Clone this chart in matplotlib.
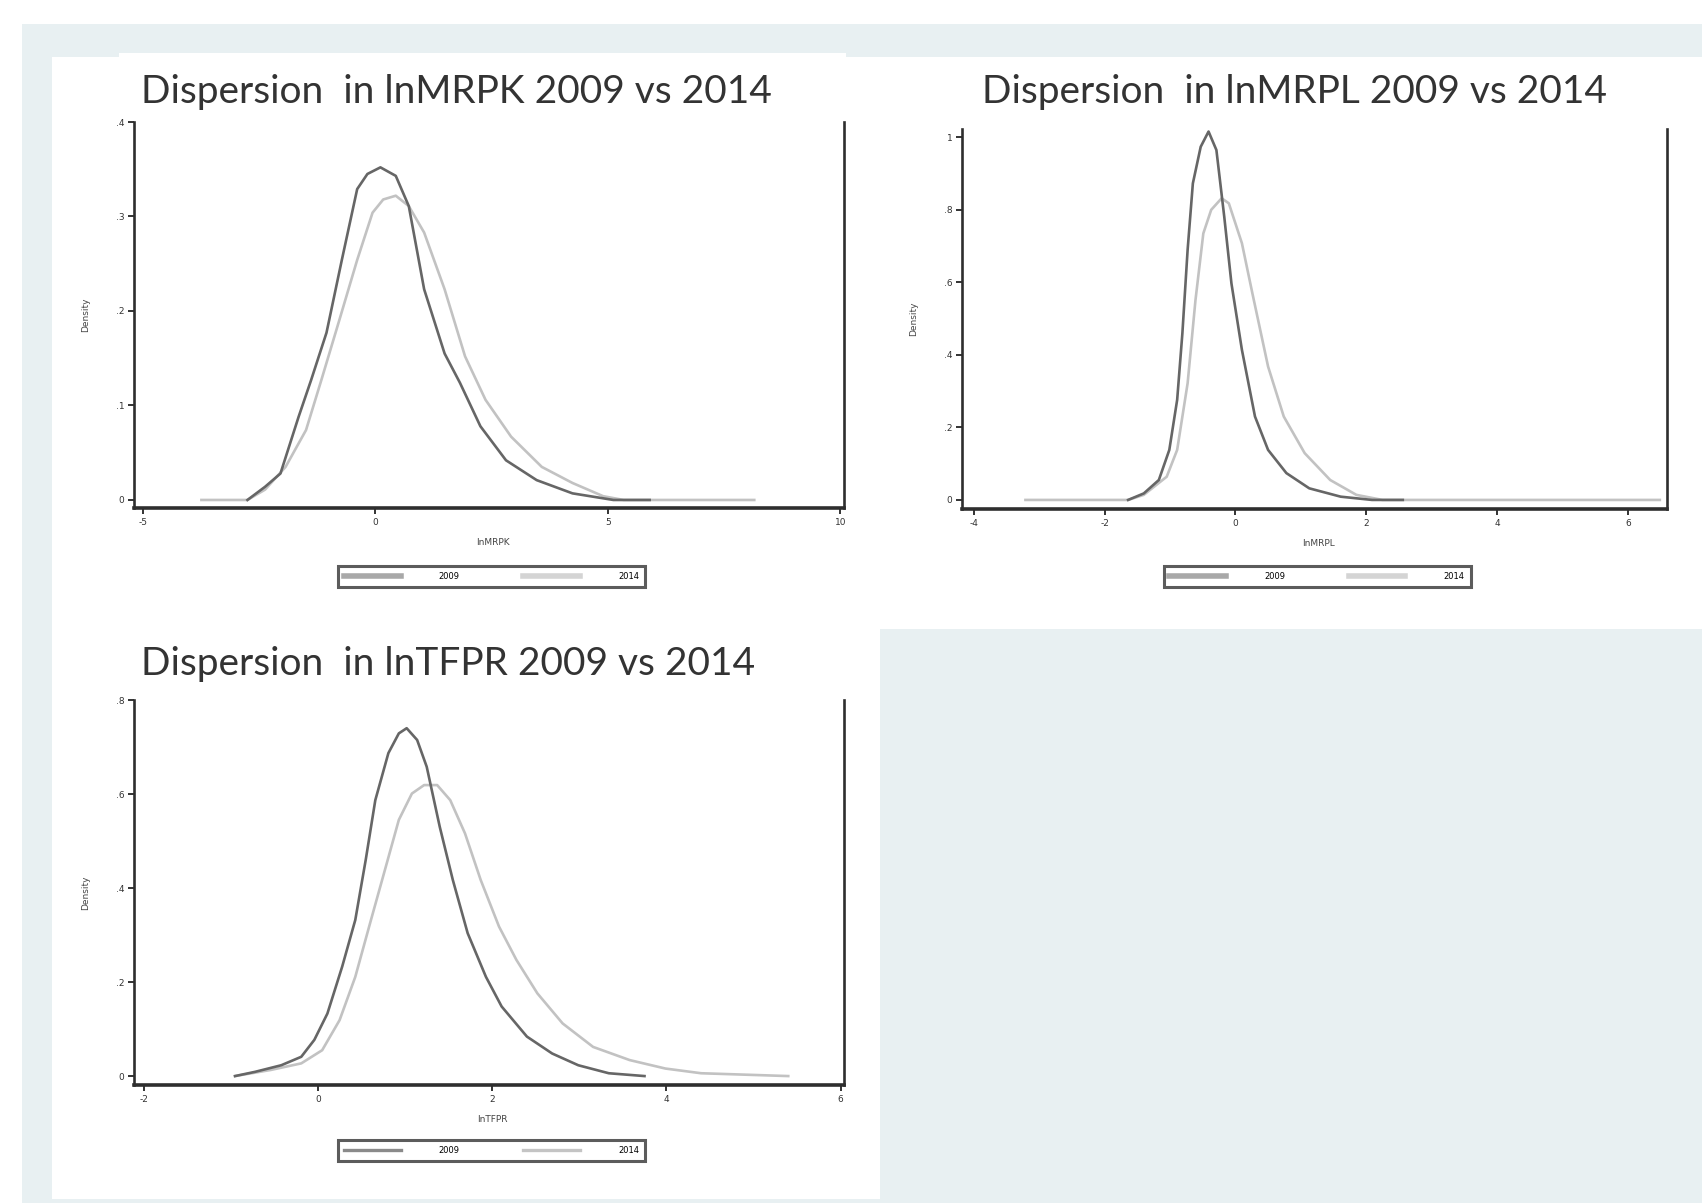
import matplotlib
matplotlib.use("Agg")
import matplotlib.pyplot as plt
from matplotlib.lines import Line2D
from matplotlib.patches import Rectangle

W, H = 1702, 1203
DPI = 100

years = ["2009", "2014"]
titles = [
    "Dispersion  in lnMRPK 2009 vs 2014",
    "Dispersion  in lnMRPL 2009 vs 2014",
    "Dispersion  in lnTFPR 2009 vs 2014",
]
xlabels = ["lnMRPK", "lnMRPL", "lnTFPR"]

# lnMRPK densities
mrpk_x_2009 = [-2.75, -2.37, -2.04, -1.65, -1.38, -1.05, -0.72, -0.39, -0.17, 0.11,
               0.44, 0.72, 1.05, 1.49, 1.82, 2.26, 2.81, 3.47, 4.24, 5.12, 5.9]
mrpk_y_2009 = [0.0, 0.014, 0.028, 0.088, 0.127, 0.177, 0.254, 0.329, 0.345, 0.352,
               0.343, 0.311, 0.223, 0.155, 0.124, 0.078, 0.042, 0.021, 0.007, 0.0, 0.0]
mrpk_x_2014 = [-3.74, -2.75, -2.37, -1.93, -1.49, -1.16, -0.77, -0.39, -0.06, 0.17,
               0.44, 0.72, 1.05, 1.49, 1.93, 2.37, 2.92, 3.58, 4.24, 4.9, 5.34, 8.15]
mrpk_y_2014 = [0.0, 0.0, 0.011, 0.035, 0.074, 0.127, 0.191, 0.254, 0.304, 0.318,
               0.322, 0.311, 0.283, 0.223, 0.152, 0.106, 0.067, 0.035, 0.018, 0.004, 0.0, 0.0]

# lnMRPL densities
mrpl_x_2009 = [-1.64, -1.40, -1.17, -1.01, -0.89, -0.81, -0.73, -0.65, -0.53, -0.41,
               -0.29, -0.17, -0.06, 0.10, 0.30, 0.50, 0.78, 1.13, 1.61, 2.09, 2.56]
mrpl_y_2009 = [0.0, 0.018, 0.055, 0.138, 0.276, 0.46, 0.69, 0.873, 0.974, 1.016,
               0.965, 0.781, 0.597, 0.414, 0.230, 0.138, 0.074, 0.032, 0.009, 0.0, 0.0]
mrpl_x_2014 = [-3.21, -1.64, -1.40, -1.05, -0.89, -0.73, -0.61, -0.49, -0.37, -0.21,
               -0.10, 0.10, 0.26, 0.50, 0.74, 1.06, 1.45, 1.85, 2.25, 6.49]
mrpl_y_2014 = [0.0, 0.0, 0.014, 0.064, 0.138, 0.322, 0.551, 0.735, 0.80, 0.832,
               0.818, 0.708, 0.570, 0.368, 0.230, 0.129, 0.055, 0.014, 0.0, 0.0]

# lnTFPR densities
tfpr_x_2009 = [-0.95, -0.72, -0.42, -0.19, -0.04, 0.11, 0.28, 0.43, 0.55, 0.66,
               0.81, 0.93, 1.02, 1.14, 1.25, 1.40, 1.55, 1.72, 1.93, 2.11,
               2.40, 2.69, 2.99, 3.34, 3.75]
tfpr_y_2009 = [0.0, 0.009, 0.023, 0.041, 0.077, 0.133, 0.233, 0.332, 0.46, 0.587,
               0.687, 0.729, 0.74, 0.715, 0.658, 0.53, 0.417, 0.304, 0.211, 0.148,
               0.084, 0.048, 0.023, 0.006, 0.0]
tfpr_x_2014 = [-0.95, -0.54, -0.19, 0.05, 0.25, 0.43, 0.61, 0.78, 0.93, 1.08,
               1.22, 1.37, 1.52, 1.69, 1.87, 2.08, 2.28, 2.52, 2.81, 3.16,
               3.58, 3.99, 4.40, 5.40]
tfpr_y_2014 = [0.0, 0.013, 0.027, 0.055, 0.119, 0.211, 0.332, 0.445, 0.545, 0.601,
               0.619, 0.619, 0.587, 0.516, 0.417, 0.318, 0.247, 0.176, 0.112, 0.062,
               0.034, 0.016, 0.006, 0.0]

xticks = [[-5, 0, 5, 10], [-4, -2, 0, 2, 4, 6], [-2, 0, 2, 4, 6]]
yticks = [[0, 0.1, 0.2, 0.3, 0.4], [0, 0.2, 0.4, 0.6, 0.8, 1.0], [0, 0.2, 0.4, 0.6, 0.8]]
yticklabels = [["0", ".1", ".2", ".3", ".4"],
               ["0", ".2", ".4", ".6", ".8", "1"],
               ["0", ".2", ".4", ".6", ".8"]]

C2009 = "#666666"
C2014 = "#c2c2c2"
PANEL_BG = "#e8f0f2"


def fig_rect(left, top, right, bottom):
    return [left / W, 1 - bottom / H, (right - left) / W, (bottom - top) / H]


def add_box(fig, left, top, right, bottom, color):
    x0, y0, w, h = fig_rect(left, top, right, bottom)
    fig.add_artist(Rectangle((x0, y0), w, h, transform=fig.transFigure,
                             facecolor=color, edgecolor="none", zorder=-5))


fig = plt.figure(figsize=(W / DPI, H / DPI), dpi=DPI, facecolor="white")
add_box(fig, 22, 24, W, H, PANEL_BG)
add_box(fig, 52, 57, 880, 1199, "white")
add_box(fig, 119, 53, 846, 620, "white")
add_box(fig, 846, 57, W, 629, "white")

panels = [
    dict(rect=(134, 122, 844, 508), xlim=(-5.19, 10.08), ylim=(-0.0085, 0.4),
         data=(mrpk_x_2009, mrpk_y_2009, mrpk_x_2014, mrpk_y_2014),
         title_xy=(141, 92), legend=(331, 563, 652, 590), thick=True),
    dict(rect=(962, 129, 1667, 509), xlim=(-4.18, 6.6), ylim=(-0.025, 1.023),
         data=(mrpl_x_2009, mrpl_y_2009, mrpl_x_2014, mrpl_y_2014),
         title_xy=(982, 92), legend=(1156, 563, 1478, 590), thick=True),
    dict(rect=(134, 700, 844, 1085), xlim=(-2.11, 6.04), ylim=(-0.019, 0.8),
         data=(tfpr_x_2009, tfpr_y_2009, tfpr_x_2014, tfpr_y_2014),
         title_xy=(141, 664), legend=(331, 1135, 652, 1166), thick=False),
]

for i, p in enumerate(panels):
    left, top, right, bottom = p["rect"]
    ax = fig.add_axes(fig_rect(left, top, right, bottom))
    ax.set_facecolor("white")
    x09, y09, x14, y14 = p["data"]
    ax.plot(x14, y14, color=C2014, lw=1.9, solid_joinstyle="round")
    ax.plot(x09, y09, color=C2009, lw=1.9, solid_joinstyle="round")
    ax.set_xlim(*p["xlim"])
    ax.set_ylim(*p["ylim"])
    ax.set_xticks(xticks[i])
    ax.set_xticklabels([str(t) for t in xticks[i]])
    ax.set_yticks(yticks[i])
    ax.set_yticklabels(yticklabels[i])
    ax.tick_params(direction="out", length=4, width=1.4, labelsize=6.5,
                   colors="#333333", pad=3)
    ax.spines["top"].set_visible(False)
    ax.spines["bottom"].set_linewidth(2.6)
    ax.spines["left"].set_linewidth(1.9)
    ax.spines["right"].set_linewidth(1.9)
    for s in ("bottom", "left", "right"):
        ax.spines[s].set_color("#2e2e2e")

    h_px = bottom - top
    w_px = right - left
    ax.set_ylabel("Density", fontsize=6.5, color="#444444")
    ax.yaxis.set_label_coords(-44 / w_px, 0.5)
    ax.set_xlabel(xlabels[i], fontsize=6.5, color="#444444")
    ax.xaxis.set_label_coords(0.505, -30 / h_px)

    tx, ty = p["title_xy"]
    fig.text(tx / W, 1 - ty / H, titles[i], ha="left", va="center",
             fontsize=28, family="Lato", color="#333333")

    lw = 4.0 if p["thick"] else 2.4
    c1 = "#a8a8a8" if p["thick"] else "#8a8a8a"
    c2 = "#d4d4d4" if p["thick"] else "#c4c4c4"
    handles = [Line2D([], [], color=c1, lw=lw), Line2D([], [], color=c2, lw=lw)]
    l0, t0, r0, b0 = p["legend"]
    leg = fig.legend(handles, years, loc="center",
                     bbox_to_anchor=((l0 + r0) / 2 / W, 1 - (t0 + b0) / 2 / H),
                     ncol=2, fontsize=6, frameon=True, fancybox=False,
                     handlelength=6.8, handletextpad=4.6, columnspacing=7.6,
                     borderpad=0.7, borderaxespad=0)
    frame = leg.get_frame()
    frame.set_edgecolor("#333333")
    frame.set_linewidth(2.2)
    frame.set_facecolor("white")

fig.savefig("out.png", dpi=DPI, facecolor=fig.get_facecolor())
